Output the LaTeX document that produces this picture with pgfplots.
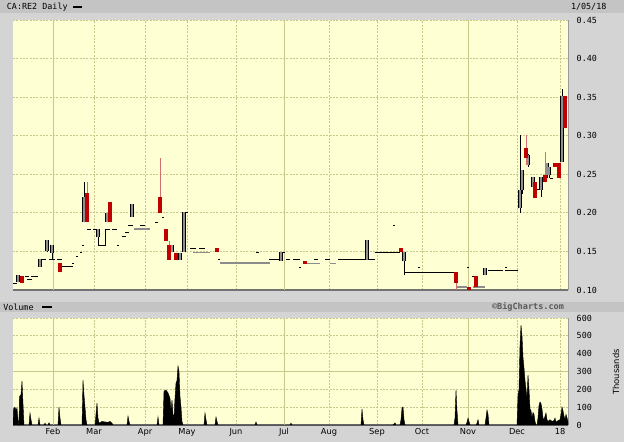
\documentclass[border=0pt]{standalone}
\usepackage{pgfplots}
\pgfplotsset{compat=1.18}
\usepackage{pgfplotstable}
\usepackage{fontspec}
\setmainfont{DejaVu Sans}
\newfontfamily\pixfont{DejaVu Sans Mono}

\definecolor{pagebg}{HTML}{D4D4D4}
\definecolor{barbg}{HTML}{C4C4C4}
\definecolor{plotbg}{HTML}{FFFFD4}
\definecolor{gridc}{HTML}{C8C88C}
\definecolor{upgray}{HTML}{909090}
\definecolor{downred}{HTML}{C00000}
\definecolor{wickred}{HTML}{D07070}
\definecolor{flatgray}{HTML}{8C8C8C}

\pgfplotsset{
  candle/.style 2 args={only marks, mark size=0pt, mark options={draw=none, fill=none},
    error bars/y dir=plus, error bars/y explicit, error bars/error mark=none,
    error bars/error bar style={draw=#1, line width=#2}},
}

% x = position along the time axis (trading-day scale), prices in CAD
% up days: x low high bodylow bodyhigh
\pgfplotstableread{
x lo hi bl bh
18 0.110 0.120 0.110 0.120
40 0.130 0.140 0.130 0.140
47 0.149 0.165 0.150 0.165
52 0.139 0.158 0.148 0.158
84 0.188 0.240 0.188 0.221
98 0.158 0.179 0.169 0.179
107 0.188 0.200 0.188 0.200
132 0.195 0.212 0.195 0.212
172 0.149 0.158 0.149 0.158
180 0.139 0.148 0.139 0.148
184 0.149 0.201 0.149 0.201
281 0.138 0.149 0.138 0.149
367 0.139 0.165 0.139 0.165
404 0.120 0.149 0.138 0.149
485 0.119 0.128 0.119 0.128
520 0.200 0.301 0.206 0.230
522 0.225 0.256 0.230 0.256
528 0.260 0.276 0.262 0.275
533 0.230 0.246 0.234 0.246
541 0.221 0.246 0.230 0.246
547 0.245 0.265 0.249 0.265
549 0.245 0.260 0.249 0.260
562 0.266 0.360 0.266 0.351
}\upc

% down days
\pgfplotstableread{
x lo hi bl bh
22 0.109 0.118 0.109 0.118
60 0.123 0.135 0.123 0.135
87 0.188 0.240 0.188 0.226
110 0.188 0.214 0.188 0.214
160 0.200 0.271 0.200 0.221
166 0.164 0.179 0.164 0.179
169 0.139 0.164 0.139 0.158
176 0.139 0.148 0.139 0.148
217 0.149 0.154 0.149 0.154
305 0.134 0.138 0.134 0.138
401 0.149 0.154 0.149 0.154
456 0.100 0.123 0.109 0.123
469 0.100 0.104 0.100 0.104
476 0.104 0.118 0.104 0.118
526 0.262 0.301 0.271 0.284
535 0.219 0.240 0.219 0.240
545 0.240 0.279 0.240 0.249
555 0.260 0.265 0.260 0.265
559 0.245 0.265 0.245 0.265
565 0.310 0.351 0.310 0.351
}\downc

% volume, thousands
\pgfplotstableread{
x v
13 0
13.5 90
15 100
16 80
17 95
18 30
19 0
19.5 160
21 170
22 247
23 120
24 0
29 0
30 67
31 30
32 0
38 0
39 39
40 0
44 0
45 10
46 0
48 0
49 12
50 0
58 0
59 101
60 40
61 0
82 0
83 252
84 168
85 100
86 30
87 0
95 0
96 60
97 123
98 40
99 10
102 20
104 18
108 15
110 20
112 10
113 0
127 0
128 50
129 20
130 0
157 0
158 45
159 0
163 0
164 190
166 196
168 180
170 150
171 80
172 140
173 60
174 40
175 150
176 235
177 250
178 331
179 300
180 160
181 101
182 20
183 0
204 0
205 67
206 30
207 0
215 0
216 45
217 20
218 0
255 0
256 17
257 0
290 0
291 10
292 0
361 0
362 90
363 30
364 0
393 0
395 12
396 0
400 0
401 30
402 95
403 101
404 30
405 0
454 0
455 40
456 196
457 80
458 0
466 0
467 15
468 39
469 20
470 0
476 0
477 10
478 30
479 0
485 0
486 40
487 84
488 60
489 0
517 0
518 168
519 200
520 450
521 560
522 500
523 380
524 320
525 250
526 200
527 150
528 280
529 200
530 90
531 80
532 40
533 70
534 60
535 20
536 0
537 0
538 40
539 110
540 129
541 120
542 90
543 40
544 30
545 50
546 67
547 30
548 20
550 30
552 20
554 25
555 39
556 15
558 25
560 30
561 60
562 101
563 80
564 50
565 30
566 60
567 40
568 20
568 0
}\vol

\begin{document}
\begin{tikzpicture}
\fill[pagebg] (0,0) rectangle (468pt,-331.5pt);
\fill[barbg] (0,0) rectangle (468pt,-9.75pt);
\fill[barbg] (0,-226.5pt) rectangle (468pt,-234pt);
\node[anchor=west, inner sep=0, font=\pixfont\fontsize{6.3}{7}\selectfont] at (5pt,-5pt) {CA:RE2 Daily};
\fill[black] (55pt,-4.3pt) rectangle (61.5pt,-6pt);
\node[anchor=east, inner sep=0, font=\pixfont\fontsize{6.3}{7}\selectfont] at (455pt,-5pt) {1/05/18};
\node[anchor=west, inner sep=0, font=\pixfont\fontsize{6.3}{7}\selectfont] at (2.25pt,-230.2pt) {Volume};
\fill[black] (31.5pt,-229.4pt) rectangle (39pt,-231pt);
\node[inner sep=0, text=black!65, font=\pixfont\bfseries\fontsize{6.4}{7}\selectfont] at (396pt,-230.2pt) {©BigCharts.com};

\begin{axis}[
  at={(9.75pt,-217.5pt)}, anchor=south west,
  scale only axis, width=416.25pt, height=202.5pt,
  xmin=13, xmax=568, ymin=0.10, ymax=0.45,
  axis background/.style={fill=plotbg},
  xtick={53,94,145,187,236,284,329,377,422,468,517,560},
  xticklabels={},
  extra x ticks={53,284,468}, extra x tick labels={},
  extra x tick style={major grid style={gridc, solid, line width=0.6pt}},
  ytick={0.10,0.15,0.20,0.25,0.30,0.35,0.40,0.45},
  yticklabel pos=right,
  grid=major,
  major grid style={gridc, line width=0.6pt, dash pattern=on 1.5pt off 1pt},
  major tick length=0pt,
  axis x line*=bottom, axis y line*=right,
  x axis line style={-, draw=black!55, line width=1.2pt},
  y axis line style={-, draw=black!40, line width=0.75pt},
  yticklabel style={font=\pixfont\fontsize{6.3}{7}\selectfont, xshift=3pt},
  /pgf/number format/.cd, fixed, fixed zerofill, precision=2, assume math mode=true,
]
% flat days
\addplot[black, line width=0.75pt, unbounded coords=jump] coordinates {
(13,0.108) (17,0.108) (17,nan)
(25,0.118) (29,0.118) (29,nan)
(31,0.118) (38,0.118) (38,nan)
(27,0.114) (32,0.114) (32,nan)
(42,0.139) (46,0.139) (46,nan)
(49,0.139) (55,0.139) (55,nan)
(57,0.139) (62,0.139) (62,nan)
(62,0.130) (73,0.130) (73,nan)
(72,0.135) (74,0.135) (74,nan)
(76,0.143) (78,0.143) (78,nan)
(80,0.149) (82,0.149) (82,nan)
(82,0.158) (84,0.158) (84,nan)
(87,0.179) (91,0.179) (91,nan)
(93,0.179) (97,0.179) (97,nan)
(98,0.158) (105,0.158) (105,0.179) (105,nan)
(105,0.179) (110,0.179) (110,nan)
(112,0.179) (117,0.179) (117,nan)
(117,0.158) (119,0.158) (119,nan)
(122,0.169) (126,0.169) (126,nan)
(125,0.174) (129,0.174) (129,nan)
(128,0.183) (133,0.183) (133,nan)
(140,0.184) (145,0.184) (145,nan)
(155,0.188) (158,0.188) (158,nan)
(162,0.194) (164,0.194) (164,nan)
(176,0.139) (180,0.139) (180,nan)
(183,0.201) (188,0.201) (188,nan)
(190,0.154) (196,0.154) (196,nan)
(199,0.154) (205,0.154) (205,nan)
(218,0.140) (220,0.140) (220,nan)
(256,0.149) (259,0.149) (259,nan)
(269,0.140) (280,0.140) (280,nan)
(283,0.149) (285,0.149) (285,nan)
(286,0.140) (290,0.140) (290,nan)
(293,0.140) (300,0.140) (300,nan)
(299,0.129) (301,0.129) (301,nan)
(314,0.140) (318,0.140) (318,nan)
(325,0.140) (330,0.140) (330,nan)
(338,0.140) (375,0.140) (375,nan)
(375,0.149) (400,0.149) (400,nan)
(393,0.184) (395,0.184) (395,nan)
(404,0.123) (455,0.123) (455,nan)
(418,0.129) (420,0.129) (420,nan)
(467,0.129) (469,0.129) (469,nan)
(472,0.118) (474,0.118) (474,nan)
(488,0.125) (503,0.125) (503,nan)
(505,0.129) (507,0.129) (507,nan)
(505,0.125) (518,0.125) (518,nan)
(535,0.230) (542,0.230) (542,nan)
(550,0.245) (553,0.245)
};
\addplot[flatgray, line width=0.9pt, unbounded coords=jump] coordinates {
(134,0.179) (150,0.179) (150,nan)
(193,0.149) (210,0.149) (210,nan)
(220,0.135) (270,0.135) (270,nan)
(307,0.134) (320,0.134) (320,nan)
(330,0.134) (336,0.134) (336,nan)
(457,0.104) (467,0.104) (467,nan)
(473,0.104) (485,0.104)
};
% up days: wick, outline, fill
\addplot[candle={black}{0.75pt}]
  table[x=x, y=lo, y error plus expr=\thisrow{hi}-\thisrow{lo}] {\upc};
\addplot[candle={black}{2.6pt}]
  table[x=x, y=bl, y error plus expr=\thisrow{bh}-\thisrow{bl}] {\upc};
\addplot[candle={upgray}{1.2pt}]
  table[x=x, y=bl, y error plus expr=\thisrow{bh}-\thisrow{bl}] {\upc};
% down days
\addplot[candle={wickred}{0.75pt}]
  table[x=x, y=lo, y error plus expr=\thisrow{hi}-\thisrow{lo}] {\downc};
\addplot[candle={downred}{2.6pt}]
  table[x=x, y=bl, y error plus expr=\thisrow{bh}-\thisrow{bl}] {\downc};
\end{axis}

\begin{axis}[
  at={(9.75pt,-318.75pt)}, anchor=south west,
  scale only axis, width=416.25pt, height=80.25pt,
  xmin=13, xmax=568, ymin=0, ymax=600,
  axis background/.style={fill=plotbg},
  xtick={53,94,145,187,236,284,329,377,422,468,517,560},
  xticklabels={Feb,Mar,Apr,May,Jun,Jul,Aug,Sep,Oct,Nov,Dec,18},
  extra x ticks={53,284,468}, extra x tick labels={},
  extra x tick style={major grid style={gridc, solid, line width=0.6pt}},
  ytick={0,100,200,300,400,500,600},
  extra y ticks={300}, extra y tick labels={},
  extra y tick style={major grid style={gridc, solid, line width=0.6pt}},
  yticklabel pos=right,
  grid=major,
  major grid style={gridc, line width=0.6pt, dash pattern=on 1.5pt off 1pt},
  major tick length=0pt,
  axis x line*=bottom, axis y line*=right,
  x axis line style={-, draw=black!55, line width=1.2pt},
  y axis line style={-, draw=black!40, line width=0.75pt},
  yticklabel style={font=\pixfont\fontsize{6.3}{7}\selectfont, xshift=3pt},
  xticklabel style={font=\fontsize{6.2}{7}\selectfont, yshift=1pt},
  /pgf/number format/.cd, assume math mode=true,
]
\addplot[fill=black, draw=black, line width=0.3pt] table[x=x, y=v] {\vol} \closedcycle;
\end{axis}
\node[rotate=90, inner sep=0, font=\fontsize{6.3}{7}\selectfont] at (462pt,-279pt) {Thousands};
\pgfresetboundingbox
\useasboundingbox (0,0) rectangle (468pt,-331.5pt);
\end{tikzpicture}
\end{document}
